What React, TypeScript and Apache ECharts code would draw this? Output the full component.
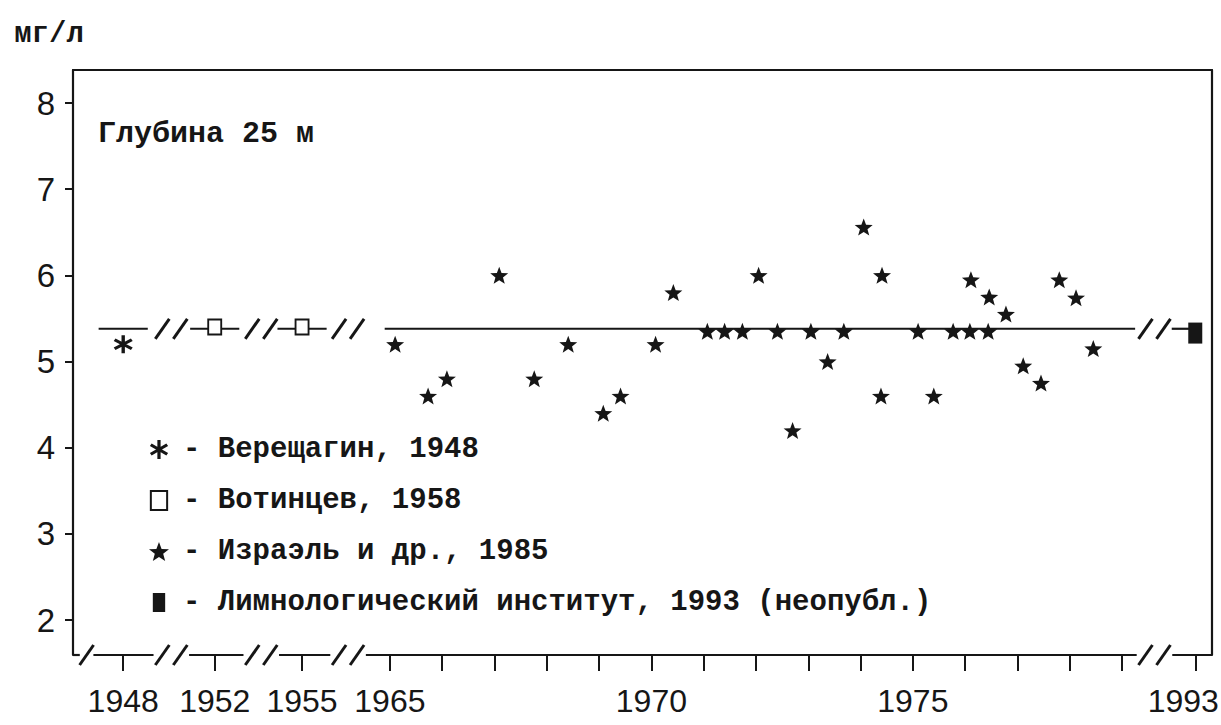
import React, { useEffect, useRef } from "react";
import * as echarts from "echarts";

// ---------------- data ----------------
const yTicks = [2, 3, 4, 5, 6, 7, 8];
const yearLabels = [1948, 1952, 1955, 1965, 1970, 1975, 1993];
const tickYears = [1948, 1952, 1955, 1965, 1966, 1967, 1968, 1969, 1970, 1971, 1972, 1973, 1974, 1975, 1976, 1977, 1978, 1979, 1993];

const vereshchaginYears = [1948];
const vereshchaginValues = [5.2];

const votintsevYears = [1952, 1955];
const votintsevValues = [5.4, 5.4];

const izraelYears = [
  1965.1, 1965.73, 1966.09, 1967.09, 1967.76, 1968.41, 1969.08, 1969.41, 1970.08, 1970.42,
  1971.07, 1971.4, 1971.74, 1972.05, 1972.41, 1972.7, 1973.05, 1973.37, 1973.68, 1974.06,
  1974.41, 1974.39, 1975.1, 1975.4, 1975.77, 1976.09, 1976.11, 1976.44, 1976.46, 1976.78,
  1977.11, 1977.45, 1977.8, 1978.12, 1978.45,
];
const izraelValues = [
  5.2, 4.6, 4.8, 6.0, 4.8, 5.2, 4.4, 4.6, 5.2, 5.8,
  5.35, 5.35, 5.35, 6.0, 5.35, 4.2, 5.35, 5.0, 5.35, 6.56,
  6.0, 4.6, 5.35, 4.6, 5.35, 5.35, 5.95, 5.35, 5.75, 5.55,
  4.95, 4.75, 5.95, 5.74, 5.15,
];

const limnoYears = [1993];
const limnoValues = [5.33];

const meanValue = 5.38;

const seriesNames = [
  "Верещагин, 1948",
  "Вотинцев, 1958",
  "Израэль и др., 1985",
  "Лимнологический институт, 1993 (неопубл.)",
];

// ---------------- broken axis layout ----------------
// years outside the continuous 1965–1979 stretch get their own short slot
const AXIS_SLOTS: Record<number, number> = { 1948: 1959.9, 1952: 1961.65, 1955: 1963.32, 1993: 1980.4 };
const U_MIN = 1958.94;
const U_MAX = 1980.72;
const Y_MIN = 1.594;
const Y_MAX = 8.383;
const MAIN_START = 1964.9;
const MAIN_END = 1979.25;
// break marks: [position, number of slashes, drawn on mean line too]
const BREAKS: [number, number, boolean][] = [
  [1959.2, 1, false],
  [1960.82, 2, true],
  [1962.54, 2, true],
  [1964.2, 2, true],
  [1979.62, 2, true],
];

const pos = (year: number) => {
  const whole = Math.floor(year);
  if (AXIS_SLOTS[whole] !== undefined) return AXIS_SLOTS[whole] + (year - whole);
  return year;
};

const INK = "#161616";
const MONO = "'Liberation Mono', 'DejaVu Sans Mono', monospace";
const SANS = "'Liberation Sans', Arial, sans-serif";

const STAR = "path://M10,0 L12.47,6.6 L19.51,6.91 L13.99,11.3 L15.88,18.09 L10,14.2 L4.12,18.09 L6.01,11.3 L0.49,6.91 L7.53,6.6 Z";
const ASTER =
  "path://M8.3,0 L11.7,0 L11.7,20 L8.3,20 Z M19.56,6.43 L2.24,16.43 L0.44,13.57 L17.76,3.57 Z M2.24,3.57 L19.56,13.57 L17.76,16.43 L0.44,6.43 Z";
const BOX = "path://M0,0 L12,0 L12,14 L0,14 Z";
const BLOCK = "path://M0,0 L13,0 L13,20 L0,20 Z";

export default function App() {
  const ref = useRef<HTMLDivElement>(null);

  useEffect(() => {
    if (!ref.current) return;
    const chart = echarts.init(ref.current, undefined, { renderer: "svg" });

    const zip = (xs: number[], ys: number[]) => xs.map((x, i) => [pos(x), ys[i]]);

    // mean line segments
    const meanSegments: number[][] = [];
    [1948, 1952, 1955].forEach((y) => meanSegments.push([pos(y) - 0.47, pos(y) + 0.47, meanValue]));
    meanSegments.push([MAIN_START, MAIN_END, meanValue]);
    meanSegments.push([pos(1993) - 0.45, pos(1993), meanValue]);

    // bottom axis segments between break marks
    const axisSegments: number[][] = [];
    let start = U_MIN;
    BREAKS.forEach(([u, n]) => {
      const g = n === 1 ? 0.13 : 0.34;
      axisSegments.push([start, u - g, Y_MIN]);
      start = u + g;
    });
    axisSegments.push([start, U_MAX, Y_MIN]);

    const breakMarks: number[][] = [];
    BREAKS.forEach(([u, n, onLine]) => {
      breakMarks.push([u, Y_MIN, n]);
      if (onLine) breakMarks.push([u, meanValue, n]);
    });

    const segmentRender = (params: any, api: any) => {
      const p1 = api.coord([api.value(0), api.value(2)]);
      const p2 = api.coord([api.value(1), api.value(2)]);
      return {
        type: "line",
        shape: { x1: p1[0], y1: p1[1], x2: p2[0], y2: p2[1] },
        style: { stroke: INK, lineWidth: 2.2 },
      };
    };

    const breakRender = (params: any, api: any) => {
      const c = api.coord([api.value(0), api.value(1)]);
      const n = api.value(2);
      const offs = n === 1 ? [0] : [-9, 9];
      return {
        type: "group",
        children: offs.map((o) => ({
          type: "line",
          shape: { x1: c[0] + o - 7, y1: c[1] + 10, x2: c[0] + o + 7, y2: c[1] - 10 },
          style: { stroke: INK, lineWidth: 3 },
        })),
      };
    };

    const lastLabel = yearLabels[yearLabels.length - 1];
    const labelFor = (v: number) => {
      let best = yearLabels[0];
      let bd = Infinity;
      yearLabels.forEach((y) => {
        const d = Math.abs(pos(y) - v);
        if (d < bd) {
          bd = d;
          best = y;
        }
      });
      return best === lastLabel ? "{edge|" + best + "}" : String(best);
    };

    const labelFont = { fontFamily: SANS, fontSize: 32, color: INK };

    chart.setOption({
      animation: false,
      backgroundColor: "#ffffff",
      title: {
        text: "Глубина 25 м",
        left: 98,
        top: 119,
        padding: 0,
        textStyle: { fontFamily: MONO, fontSize: 30, fontWeight: "bold", color: INK },
      },
      legend: {
        orient: "vertical",
        left: 149,
        top: 435,
        padding: 0,
        itemWidth: 38,
        itemHeight: 19,
        itemGap: 22,
        selectedMode: false,
        data: seriesNames,
        formatter: (name: string) => "- " + name,
        textStyle: { fontFamily: MONO, fontSize: 29, fontWeight: "bold", color: INK, lineHeight: 29 },
      },
      grid: { left: 73, right: 9, top: 70, bottom: 70, outerBoundsMode: "none" },
      xAxis: [
        {
          type: "value",
          min: U_MIN,
          max: U_MAX,
          axisLine: { show: false },
          splitLine: { show: false },
          axisTick: {
            show: true,
            customValues: tickYears.map(pos),
            length: 16,
            lineStyle: { color: INK, width: 2 },
          },
          axisLabel: {
            customValues: yearLabels.map(pos),
            formatter: (v: number) => labelFor(v),
            margin: 30,
            ...labelFont,
            rich: { edge: { ...labelFont, padding: [0, 24, 0, 0] } },
          },
        },
        {
          type: "value",
          position: "top",
          min: U_MIN,
          max: U_MAX,
          axisLine: { show: true, onZero: false, lineStyle: { color: INK, width: 2.2 } },
          axisTick: { show: false },
          axisLabel: { show: false },
          splitLine: { show: false },
        },
      ],
      yAxis: [
        {
          type: "value",
          min: Y_MIN,
          max: Y_MAX,
          name: "мг/л",
          nameLocation: "end",
          nameGap: 21,
          nameTextStyle: {
            fontFamily: MONO,
            fontSize: 29,
            fontWeight: "bold",
            color: INK,
            align: "center",
            padding: [0, 48, 0, 0],
          },
          axisLine: { show: true, onZero: false, lineStyle: { color: INK, width: 2.2 } },
          axisTick: { show: true, customValues: yTicks, length: 8, lineStyle: { color: INK, width: 2 } },
          axisLabel: {
            customValues: yTicks,
            margin: 18,
            fontFamily: SANS,
            fontSize: 33,
            color: INK,
          },
          splitLine: { show: false },
        },
        {
          type: "value",
          position: "right",
          min: Y_MIN,
          max: Y_MAX,
          axisLine: { show: true, onZero: false, lineStyle: { color: INK, width: 2.2 } },
          axisTick: { show: false },
          axisLabel: { show: false },
          splitLine: { show: false },
        },
      ],
      series: [
        {
          type: "custom",
          name: "mean",
          silent: true,
          clip: false,
          z: 1,
          renderItem: segmentRender,
          encode: { x: [0, 1], y: 2 },
          data: meanSegments,
        },
        {
          type: "custom",
          name: "axisBase",
          silent: true,
          clip: false,
          z: 1,
          renderItem: segmentRender,
          encode: { x: [0, 1], y: 2 },
          data: axisSegments,
        },
        {
          type: "custom",
          name: "breaks",
          silent: true,
          clip: false,
          z: 2,
          renderItem: breakRender,
          encode: { x: 0, y: 1 },
          data: breakMarks,
        },
        {
          type: "scatter",
          name: seriesNames[0],
          symbol: ASTER,
          symbolSize: [19, 18],
          itemStyle: { color: INK, opacity: 1 },
          z: 3,
          data: zip(vereshchaginYears, vereshchaginValues),
        },
        {
          type: "scatter",
          name: seriesNames[1],
          symbol: BOX,
          symbolSize: [13, 15],
          itemStyle: { color: "#ffffff", borderColor: INK, borderWidth: 2, opacity: 1 },
          z: 3,
          data: zip(votintsevYears, votintsevValues),
        },
        {
          type: "scatter",
          name: seriesNames[2],
          symbol: STAR,
          symbolSize: [18, 17],
          itemStyle: { color: INK, opacity: 1 },
          z: 3,
          data: zip(izraelYears, izraelValues),
        },
        {
          type: "scatter",
          name: seriesNames[3],
          symbol: BLOCK,
          symbolSize: [14, 21],
          itemStyle: { color: INK, opacity: 1 },
          z: 3,
          data: zip(limnoYears, limnoValues),
        },
      ],
    });

    return () => chart.dispose();
  }, []);

  return (
    <div
      ref={ref}
      style={{ position: "fixed", left: 0, top: 0, width: 1221, height: 725, background: "#fff" }}
    />
  );
}
